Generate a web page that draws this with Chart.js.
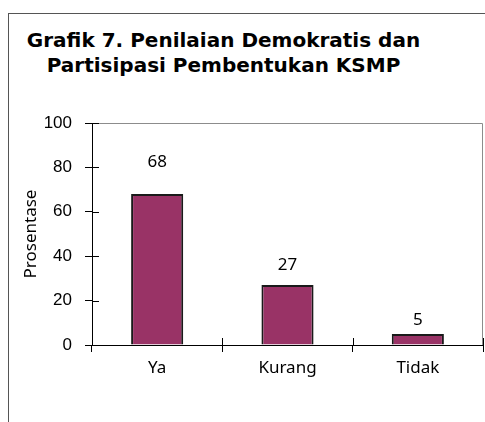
<!DOCTYPE html>
<html>
<head>
<meta charset="utf-8">
<script src="https://cdn.jsdelivr.net/npm/chart.js@4"></script>
<style>
  html, body { margin: 0; padding: 0; background: #fff; }
  .wrap { position: relative; width: 485px; height: 422px; overflow: hidden; }
  .frame { position: absolute; left: 8px; top: 13px; width: 600px; height: 600px;
           border-left: 1px solid #555; border-top: 1px solid #555; }
  .title { position: absolute; left: 0; top: 28px; width: 447px; text-align: center;
           font: bold 20px "DejaVu Sans", sans-serif; line-height: 25px; color: #000; }
  canvas { position: absolute; left: 0; top: 0; }
</style>
</head>
<body>
<div class="wrap">
  <div class="frame"></div>
  <div class="title">Grafik 7. Penilaian Demokratis dan<br>Partisipasi Pembentukan KSMP</div>
  <canvas id="c" width="485" height="422"></canvas>
</div>
<script>
const categories = ['Ya', 'Kurang', 'Tidak'];
const values = [68, 27, 5];
const yTicks = [0, 20, 40, 60, 80, 100];

// plot box, crossing ticks and value labels
const extras = {
  id: 'extras',
  afterDraw(chart) {
    const { ctx, chartArea: a } = chart;
    const x = chart.scales.x, y = chart.scales.y;
    ctx.save();
    ctx.strokeStyle = '#8c8c8c';
    ctx.lineWidth = 1;
    ctx.beginPath();
    ctx.moveTo(a.left, a.top + 0.5);
    ctx.lineTo(a.right - 0.5, a.top + 0.5);
    ctx.lineTo(a.right - 0.5, a.bottom);
    ctx.stroke();

    ctx.strokeStyle = '#000';
    ctx.beginPath();
    yTicks.forEach(v => {
      const py = Math.round(y.getPixelForValue(v)) + 0.5;
      ctx.moveTo(a.left, py);
      ctx.lineTo(a.left + 7, py);
    });
    const step = (x.right - x.left) / categories.length;
    for (let i = 0; i <= categories.length; i++) {
      const px = Math.round(x.left + i * step) + 0.5;
      ctx.moveTo(px, a.bottom);
      ctx.lineTo(px, a.bottom - 7);
    }
    ctx.stroke();

    ctx.fillStyle = '#000';
    ctx.font = '17px "Noto Sans", sans-serif';
    ctx.textAlign = 'center';
    ctx.textBaseline = 'alphabetic';
    chart.getDatasetMeta(0).data.forEach((bar, i) => {
      const h = bar.base - bar.y;
      ctx.fillText(String(values[i]), bar.x, bar.y - (7.6 + 0.13 * h));
    });
    ctx.restore();
  }
};

new Chart(document.getElementById('c'), {
  type: 'bar',
  data: {
    labels: categories,
    datasets: [{
      data: values,
      backgroundColor: '#993366',
      borderColor: '#1a1a1a',
      borderWidth: 2,
      barPercentage: 0.4,
      categoryPercentage: 1
    }]
  },
  options: {
    responsive: false,
    animation: false,
    layout: { padding: { top: 123, right: 2, bottom: 0, left: 0 } },
    plugins: { legend: { display: false }, tooltip: { enabled: false } },
    scales: {
      x: {
        afterFit: s => { s.height = 77; },
        grid: { offset: true, drawOnChartArea: false, drawTicks: true, tickLength: 7, color: '#000' },
        border: { display: true, color: '#000', width: 1 },
        ticks: { color: '#000', padding: 6, font: { family: 'Noto Sans', size: 17 } }
      },
      y: {
        min: 0,
        max: 100,
        afterFit: s => { s.width = 92; },
        afterBuildTicks: s => { s.ticks = yTicks.map(v => ({ value: v })); },
        grid: { drawOnChartArea: false, drawTicks: true, tickLength: 7, color: '#000' },
        border: { display: true, color: '#000', width: 1 },
        ticks: { color: '#000', padding: 13, font: { family: 'Liberation Sans', size: 17 } },
        title: {
          display: true,
          text: 'Prosentase',
          color: '#000',
          padding: { top: 21, bottom: 4 },
          font: { family: 'Noto Sans', size: 17 }
        }
      }
    }
  },
  plugins: [extras]
});
</script>
</body>
</html>
